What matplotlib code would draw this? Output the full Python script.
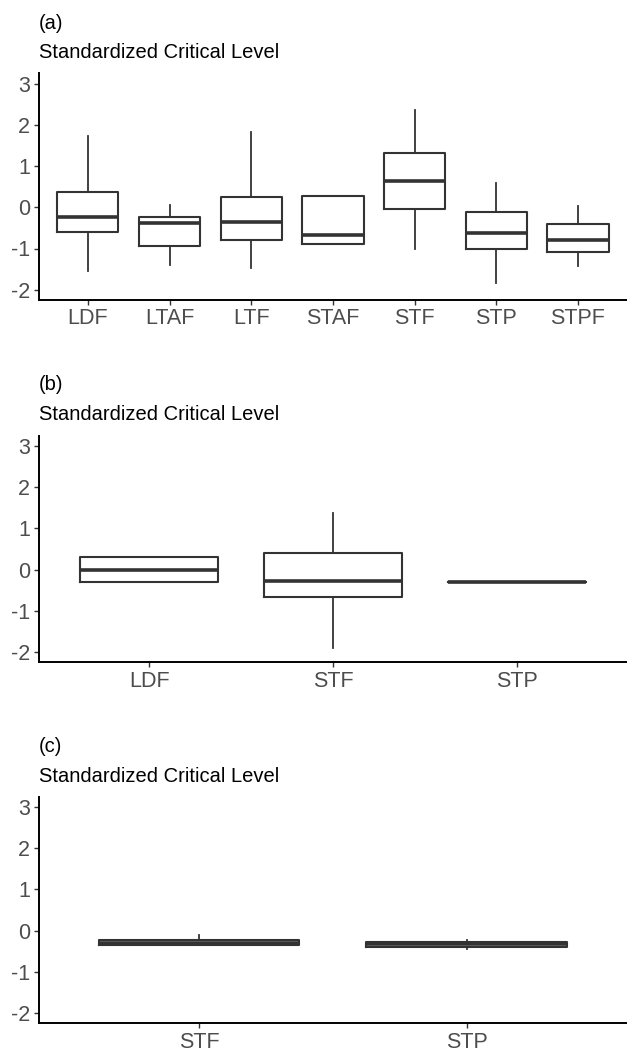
import matplotlib
matplotlib.use("Agg")
import matplotlib.pyplot as plt

plt.rcParams['font.family'] = ['Liberation Sans', 'DejaVu Sans']

# ---- Panel (a) ----
cats_a = ["LDF", "LTAF", "LTF", "STAF", "STF", "STP", "STPF"]
lo_a   = [-1.54, -1.39, -1.47, -0.90, -1.01, -1.83, -1.42]
q1_a   = [-0.61, -0.95, -0.79, -0.90, -0.04, -1.01, -1.09]
med_a  = [-0.23, -0.39, -0.36, -0.68,  0.63, -0.63, -0.80]
q3_a   = [ 0.36, -0.24,  0.25,  0.28,  1.33, -0.11, -0.40]
hi_a   = [ 1.72,  0.05,  1.82,  0.28,  2.35,  0.58,  0.03]

# ---- Panel (b) ----
cats_b = ["LDF", "STF", "STP"]
lo_b   = [-0.30, -1.91, -0.31]
q1_b   = [-0.30, -0.67, -0.31]
med_b  = [ 0.00, -0.27, -0.31]
q3_b   = [ 0.31,  0.40, -0.31]
hi_b   = [ 0.31,  1.38, -0.31]

# ---- Panel (c) ----
cats_c = ["STF", "STP"]
lo_c   = [-0.36, -0.45]
q1_c   = [-0.36, -0.39]
med_c  = [-0.30, -0.33]
q3_c   = [-0.23, -0.27]
hi_c   = [-0.11, -0.24]

panels = [
    ("(a)", cats_a, lo_a, q1_a, med_a, q3_a, hi_a),
    ("(b)", cats_b, lo_b, q1_b, med_b, q3_b, hi_b),
    ("(c)", cats_c, lo_c, q1_c, med_c, q3_c, hi_c),
]

W, H = 627, 1052
fig = plt.figure(figsize=(W / 100, H / 100), dpi=100)

ax_left_px = 38.8
ax_bottoms_px = [300.0, 662.3, 1023.3]   # x-axis line y (from top)
ax_height_px = 226.6
label_y_px = [23.3, 385.0, 746.7]
sub_y_px = [52.3, 414.0, 776.0]

line_col = "#333333"
tick_col = "#4D4D4D"

for i, (tag, cats, lo, q1, med, q3, hi) in enumerate(panels):
    bottom = (H - ax_bottoms_px[i]) / H
    ax = fig.add_axes([ax_left_px / W, bottom, 1 - ax_left_px / W, ax_height_px / H])
    stats = []
    for c, a, b, m, d, e in zip(cats, lo, q1, med, q3, hi):
        stats.append(dict(label=c, whislo=a, q1=b, med=m, q3=d, whishi=e, fliers=[]))
    pos = list(range(1, len(cats) + 1))
    ax.bxp(stats, positions=pos, widths=0.75, showfliers=False, showcaps=False,
           patch_artist=False,
           boxprops=dict(color=line_col, linewidth=1.5),
           whiskerprops=dict(color=line_col, linewidth=1.3),
           medianprops=dict(color=line_col, linewidth=2.6, solid_capstyle='butt'))
    ax.set_xlim(0.4, len(cats) + 0.6)
    ax.set_ylim(-2.25, 3.25)
    ax.set_yticks([-2, -1, 0, 1, 2, 3])
    ax.set_yticklabels(["-2", "-1", "0", "1", "2", "3"])
    ax.set_xticks(pos)
    ax.set_xticklabels(cats)
    for s in ["top", "right"]:
        ax.spines[s].set_visible(False)
    for s in ["left", "bottom"]:
        ax.spines[s].set_color("black")
        ax.spines[s].set_linewidth(1.4)
    ax.tick_params(axis='both', colors=line_col, labelcolor=tick_col,
                   length=3.6, width=1.0, labelsize=15.5, pad=2.5)
    ax.set_facecolor("white")

    fig.text(ax_left_px / W, 1 - label_y_px[i] / H, tag, ha='left', va='center',
             fontsize=14.5, color='black')
    fig.text(ax_left_px / W, 1 - sub_y_px[i] / H, "Standardized Critical Level",
             ha='left', va='center', fontsize=14.5, color='black')

fig.savefig("out.png", dpi=100, facecolor="white")
